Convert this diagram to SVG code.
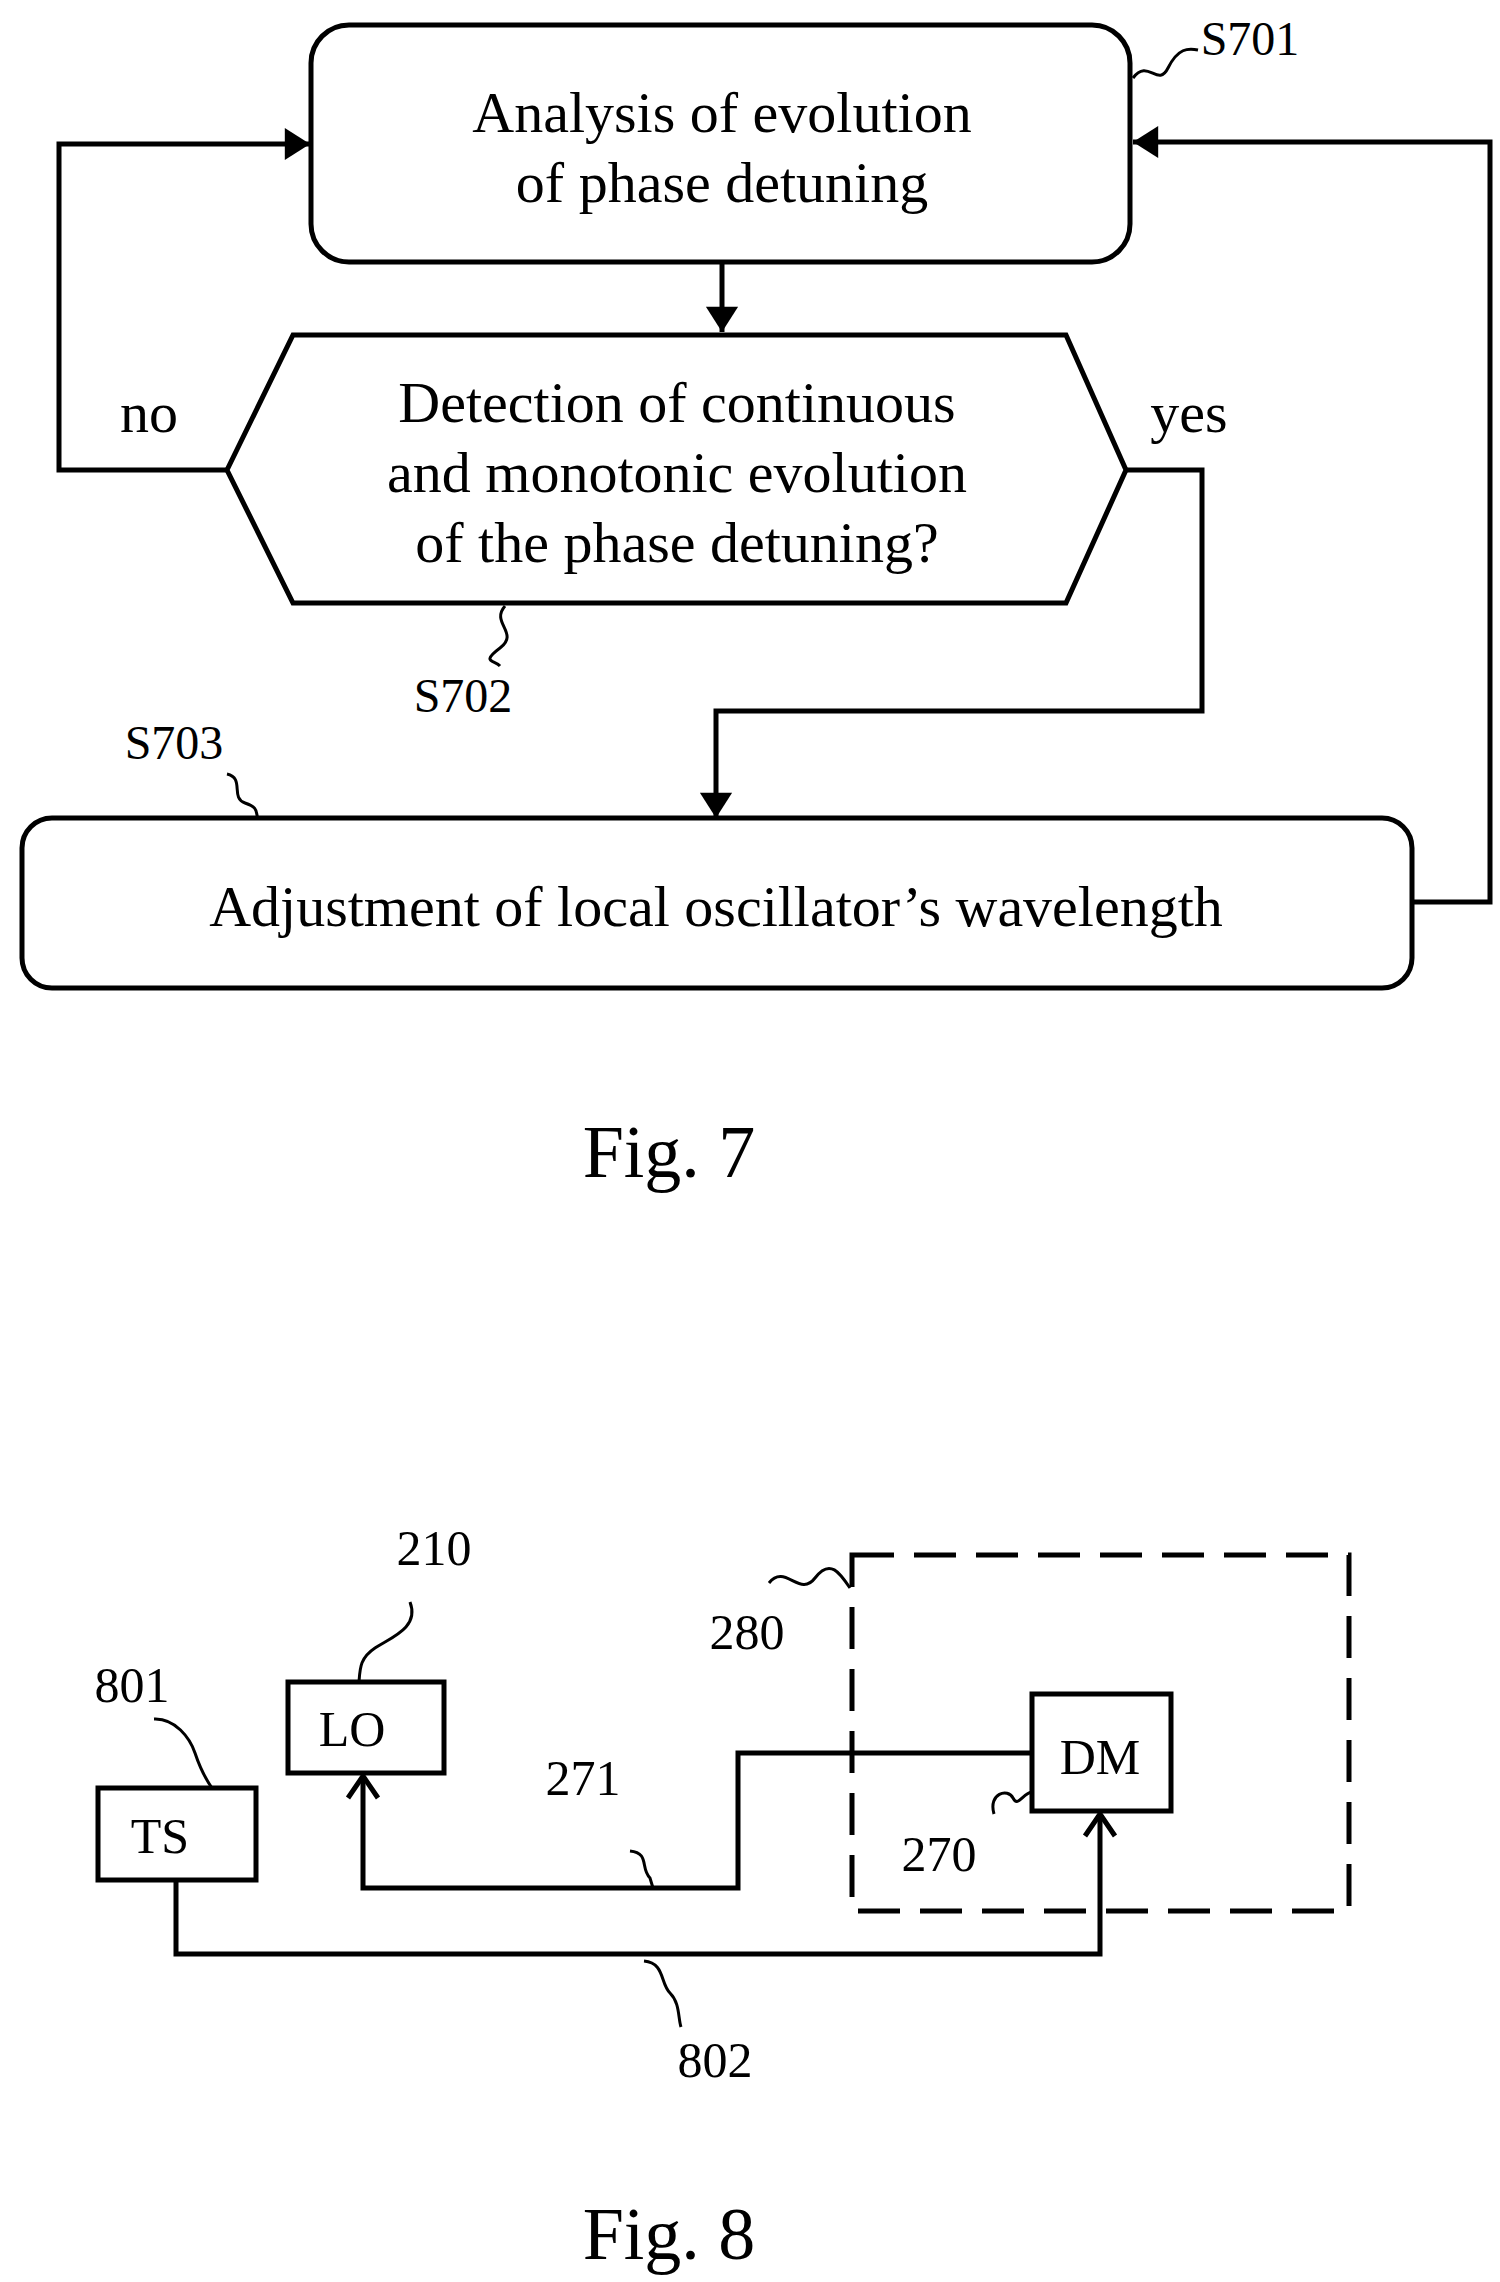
<svg xmlns="http://www.w3.org/2000/svg" width="1500" height="2282" viewBox="0 0 1500 2282">
<style>
text{font-family:"Liberation Serif","Times New Roman",serif;fill:#000;text-anchor:middle;dominant-baseline:central}
.b{font-size:58px}.l{font-size:48px}.m{font-size:50px}.f{font-size:74px}
.s{fill:none;stroke:#000;stroke-width:5}
.t{fill:none;stroke:#000;stroke-width:3}
.w{fill:#fff;stroke:#000;stroke-width:5}
</style>
<defs>
<marker id="a" viewBox="0 0 10 10" refX="10" refY="5" markerWidth="7" markerHeight="7" orient="auto" markerUnits="userSpaceOnUse" style="overflow:visible"><path d="M-36,-18 L0,5 L-36,28 Z" transform="translate(10,0)" fill="#000"/></marker>
<marker id="o" viewBox="0 0 10 10" refX="5" refY="5" markerWidth="10" markerHeight="10" orient="auto" markerUnits="userSpaceOnUse" style="overflow:visible"><path d="M-17,-10 L5,5 L-17,20" fill="none" stroke="#000" stroke-width="5"/></marker>
</defs>
<rect width="1500" height="2282" fill="#fff"/>
<g id="connectors">
<path class="s" d="M722,262 V332" marker-end="url(#a)"/>
<path class="s" d="M227,470 H59 V144 H310" marker-end="url(#a)"/>
<path class="s" d="M1126,470 H1202 V711 H716 V818" marker-end="url(#a)"/>
<path class="s" d="M1412,902 H1490 V142 H1133" marker-end="url(#a)"/>
<path class="s" d="M1032,1753 H738 V1888 H363 V1776" marker-end="url(#o)"/>
<path class="s" d="M176,1880 V1954 H1100 V1814" marker-end="url(#o)"/>
</g>
<g id="S701"><rect class="w" x="311" y="25" width="819" height="237" rx="38"/>
<text class="b" x="722" y="112">Analysis of evolution</text><text class="b" x="722" y="182">of phase detuning</text>
<path class="t" d="M1133,78 C1148,58 1158,88 1168,68 S1188,48 1198,50"/><text class="l" x="1250" y="38">S701</text></g>
<g id="S702"><polygon class="w" points="227,470 293,335 1066,335 1126,470 1066,603 293,603"/>
<text class="b" x="677" y="402">Detection of continuous</text><text class="b" x="677" y="472">and monotonic evolution</text><text class="b" x="677" y="542">of the phase detuning?</text>
<path class="t" d="M505,606 C490,623 520,633 500,648 S495,660 500,666"/><text class="l" x="463" y="695">S702</text></g>
<text class="b" x="149" y="412">no</text><text class="b" x="1189" y="412">yes</text>
<g id="S703"><rect class="w" x="22" y="818" width="1390" height="170" rx="30"/>
<text class="b" x="716" y="906">Adjustment of local oscillator’s wavelength</text>
<path class="t" d="M227,774 C245,778 230,798 245,803 S255,813 258,818"/><text class="l" x="174" y="742">S703</text></g>
<text class="f" x="669" y="1152">Fig. 7</text>
<g id="DMbox"><rect x="852" y="1555" width="497" height="356" fill="none" stroke="#000" stroke-width="5" stroke-dasharray="42,20"/>
<path class="t" d="M769,1583 C785,1563 800,1598 815,1578 S840,1573 850,1588"/><text class="m" x="747" y="1632">280</text></g>
<g id="LO"><rect class="w" x="288" y="1682" width="156" height="91"/><text class="m" x="352" y="1729">LO</text>
<path class="t" d="M410,1602 C420,1628 390,1638 375,1648 S360,1668 359,1682"/><text class="m" x="434" y="1548">210</text></g>
<g id="TS"><rect class="w" x="98" y="1788" width="158" height="92"/><text class="m" x="160" y="1836">TS</text>
<path class="t" d="M154,1719 C175,1718 190,1738 195,1753 S205,1778 212,1788"/><text class="m" x="132" y="1685">801</text></g>
<g id="DM"><rect class="w" x="1032" y="1694" width="139" height="117"/><text class="m" x="1100" y="1757">DM</text>
<path class="t" d="M994,1814 C988,1793 1008,1788 1013,1798 S1023,1793 1032,1792"/><text class="m" x="939" y="1854">270</text></g>
<path class="t" d="M630,1851 C650,1853 640,1868 650,1878 L653,1888"/><text class="m" x="583" y="1778">271</text>
<path class="t" d="M644,1961 C665,1963 660,1983 670,1993 S678,2018 681,2027"/><text class="m" x="715" y="2060">802</text>
<text class="f" x="669" y="2234">Fig. 8</text>
</svg>
